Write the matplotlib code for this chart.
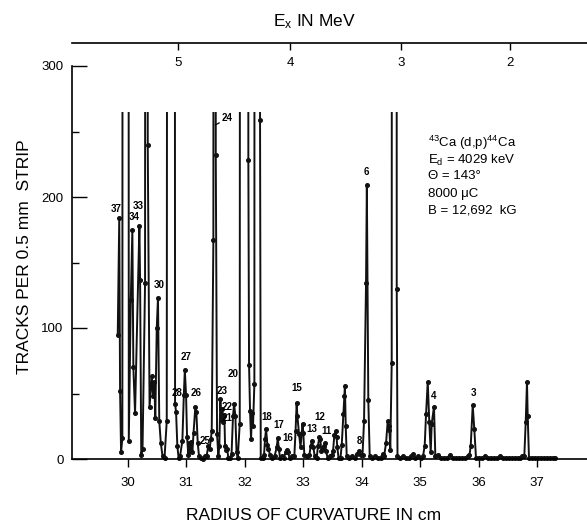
import matplotlib.pyplot as plt
from matplotlib.patches import Rectangle

plt.rcParams['font.family'] = ['Liberation Sans', 'DejaVu Sans']
plt.rcParams['mathtext.fontset'] = 'custom'
plt.rcParams['mathtext.rm'] = 'Liberation Sans'
plt.rcParams['mathtext.it'] = 'Liberation Sans'
plt.rcParams['mathtext.default'] = 'regular'

# radius of curvature (cm) and tracks per 0.5 mm strip
# 2000 = peak off scale (line is cut at the top like on the original)
radius = [29.832, 29.858, 29.872, 29.889, 29.911, 29.926, 30.005, 30.021, 30.055, 30.082,
          30.099, 30.128, 30.202, 30.214, 30.234, 30.256, 30.299, 30.316, 30.333, 30.345,
          30.376, 30.414, 30.436, 30.458, 30.474, 30.499, 30.520, 30.542, 30.569, 30.598,
          30.632, 30.670, 30.701, 30.795, 30.812, 30.829, 30.851, 30.872, 30.897, 30.937,
          30.962, 30.979, 31.000, 31.017, 31.039, 31.056, 31.073, 31.091, 31.108, 31.128,
          31.159, 31.176, 31.200, 31.222, 31.256, 31.291, 31.325, 31.350, 31.381, 31.405,
          31.424, 31.439, 31.467, 31.484, 31.496, 31.508, 31.530, 31.552, 31.569, 31.586,
          31.603, 31.621, 31.638, 31.655, 31.667, 31.684, 31.701, 31.723, 31.752, 31.778,
          31.803, 31.821, 31.843, 31.863, 31.884, 31.918, 31.935, 32.056, 32.065, 32.077,
          32.094, 32.111, 32.128, 32.145, 32.168, 32.179, 32.256, 32.265, 32.277, 32.308,
          32.333, 32.350, 32.368, 32.390, 32.407, 32.436, 32.470, 32.513, 32.550, 32.568,
          32.585, 32.607, 32.641, 32.675, 32.701, 32.721, 32.744, 32.769, 32.803, 32.851,
          32.872, 32.891, 32.903, 32.932, 32.957, 32.978, 32.991, 33.005, 33.022, 33.068,
          33.108, 33.132, 33.154, 33.176, 33.200, 33.234, 33.256, 33.279, 33.296, 33.313,
          33.337, 33.359, 33.376, 33.393, 33.419, 33.462, 33.496, 33.513, 33.535, 33.556,
          33.573, 33.586, 33.607, 33.641, 33.662, 33.689, 33.706, 33.716, 33.730, 33.747,
          33.786, 33.838, 33.889, 33.923, 33.962, 33.986, 34.017, 34.043, 34.077, 34.091,
          34.116, 34.140, 34.179, 34.231, 34.282, 34.325, 34.362, 34.385, 34.419, 34.448,
          34.465, 34.475, 34.492, 34.516, 34.530, 34.595, 34.602, 34.615, 34.658, 34.709,
          34.761, 34.812, 34.846, 34.886, 34.915, 34.966, 35.017, 35.051, 35.080, 35.103,
          35.132, 35.159, 35.183, 35.200, 35.239, 35.262, 35.313, 35.359, 35.410, 35.462,
          35.513, 35.564, 35.615, 35.667, 35.718, 35.769, 35.821, 35.846, 35.867, 35.901,
          35.928, 35.957, 36.009, 36.060, 36.111, 36.162, 36.214, 36.265, 36.316, 36.368,
          36.419, 36.470, 36.521, 36.573, 36.624, 36.675, 36.718, 36.752, 36.783, 36.807,
          36.829, 36.841, 36.863, 36.915, 36.966, 37.017, 37.068, 37.120, 37.171, 37.222,
          37.274, 37.308]
tracks = [95, 184, 52, 5, 16, 2000, 2000, 14, 121, 175,
          70, 35, 178, 137, 3, 8, 134, 2000, 2000, 240,
          40, 63, 48, 59, 31, 100, 123, 29, 12, 2,
          1, 29, 2000, 2000, 42, 36, 10, 1, 2, 14,
          49, 68, 49, 17, 3, 12, 6, 13, 5, 20,
          40, 36, 12, 2, 1, 0, 2, 2, 10, 8,
          15, 21, 167, 2000, 2000, 232, 19, 2, 10, 46,
          30, 38, 28, 33, 10, 7, 8, 1, 1, 4,
          33, 42, 33, 5, 1, 27, 2000, 2000, 228, 72,
          37, 15, 35, 25, 57, 2000, 2000, 259, 1, 1,
          3, 15, 23, 11, 8, 3, 1, 2, 9, 16,
          8, 1, 2, 1, 5, 7, 5, 1, 2, 2,
          21, 43, 33, 19, 9, 20, 27, 20, 3, 2,
          3, 10, 14, 9, 2, 1, 10, 17, 15, 6,
          8, 10, 12, 6, 1, 2, 3, 6, 18, 21,
          17, 9, 1, 1, 11, 34, 48, 56, 25, 2,
          1, 2, 1, 4, 6, 3, 3, 29, 134, 209,
          45, 2, 1, 2, 1, 1, 4, 2, 12, 29,
          22, 25, 7, 73, 2000, 2000, 130, 2, 1, 2,
          1, 1, 2, 4, 1, 2, 1, 2, 10, 34,
          59, 28, 5, 27, 40, 2, 3, 1, 1, 1,
          3, 1, 1, 1, 1, 1, 2, 3, 10, 41,
          23, 1, 1, 1, 2, 1, 1, 1, 1, 2,
          1, 1, 1, 1, 1, 1, 1, 2, 2, 28,
          59, 33, 1, 1, 1, 1, 1, 1, 1, 1,
          1, 1]

# level numbers written next to the peaks
peak_names = ['37', '34', '33', '30', '28', '27', '26', '25', '23', '22', '21', '20',
              '18', '17', '16', '15', '13', '12', '11', '8', '6', '4', '3']
peak_r = [29.803, 30.116, 30.185, 30.533, 30.846, 30.994, 31.166, 31.325, 31.621, 31.706,
          31.706, 31.809, 32.379, 32.578, 32.732, 32.892, 33.154, 33.279, 33.393, 33.962,
          34.089, 35.239, 35.911]
peak_y = [191, 185, 193, 133, 50, 78, 50, 14, 52, 40,
          31, 65, 32, 26, 16, 54, 23, 32, 21, 14,
          219, 48, 50]

# excitation energy scale on top
ex_r = [30.863, 32.778, 34.675, 36.538]
ex_labels = ['5', '4', '3', '2']

fig = plt.figure(figsize=(5.87, 5.24), dpi=100)
ax = fig.add_axes([72 / 587, 65 / 524, 515 / 587, 393 / 524])
ax.set_xlim(29.05, 37.855)
ax.set_ylim(0, 300)

line, = ax.plot(radius, tracks, color='#111111', lw=1.4, marker='o', ms=2.6)
line.set_clip_path(Rectangle((29.0, -5), 9.0, 270, transform=ax.transData))

for name, r, y in zip(peak_names, peak_r, peak_y):
    ax.text(r, y, name, ha='center', va='center', fontsize=7, fontweight='bold')
ax.annotate('24', xy=(31.50, 255), xytext=(31.71, 260), ha='center', va='center',
            fontsize=7, fontweight='bold',
            arrowprops=dict(arrowstyle='-', lw=0.9, shrinkA=4, shrinkB=0))

info = [r'$^{43}$Ca (d,p)$^{44}$Ca', r'E$_d$ = 4029 keV', 'Θ = 143°', '8000 μC', 'B = 12,692  kG']
info_y = [241, 228, 216, 202, 190]
for s, y in zip(info, info_y):
    ax.text(35.137, y, s, ha='left', va='center', fontsize=9.5)

for side in ['top', 'right']:
    ax.spines[side].set_visible(False)
ax.spines['left'].set_linewidth(1.2)
ax.spines['bottom'].set_linewidth(1.2)
ax.set_xticks(range(30, 38))
ax.set_yticks([0, 100, 200, 300])
ax.set_yticks([50, 150, 250], minor=True)
ax.tick_params(axis='x', direction='out', length=6, width=1, labelsize=9.5, pad=7)
ax.tick_params(axis='y', which='major', direction='in', length=11, width=1, labelsize=9.5, pad=6)
ax.tick_params(axis='y', which='minor', direction='in', length=5, width=1)

axt = fig.add_axes([72 / 587, (524 - 43) / 524, 515 / 587, 0.001])
axt.set_xlim(29.05, 37.855)
axt.patch.set_visible(False)
for side in ['top', 'left', 'right']:
    axt.spines[side].set_visible(False)
axt.spines['bottom'].set_linewidth(1.2)
axt.set_yticks([])
axt.set_xticks(ex_r)
axt.set_xticklabels(ex_labels)
axt.tick_params(axis='x', direction='out', length=5, width=1, labelsize=9.5, pad=5)

fig.text(314 / 587, 1 - 22 / 524, r'E$_x$ IN MeV', ha='center', va='center', fontsize=12.5)
fig.text(314 / 587, 1 - 516 / 524, 'RADIUS OF CURVATURE IN cm', ha='center', va='center', fontsize=12.5)
fig.text(25 / 587, 1 - 257 / 524, 'TRACKS PER 0.5 mm  STRIP', ha='center', va='center',
         rotation=90, fontsize=12.5)

fig.savefig('out.png', dpi=100)
